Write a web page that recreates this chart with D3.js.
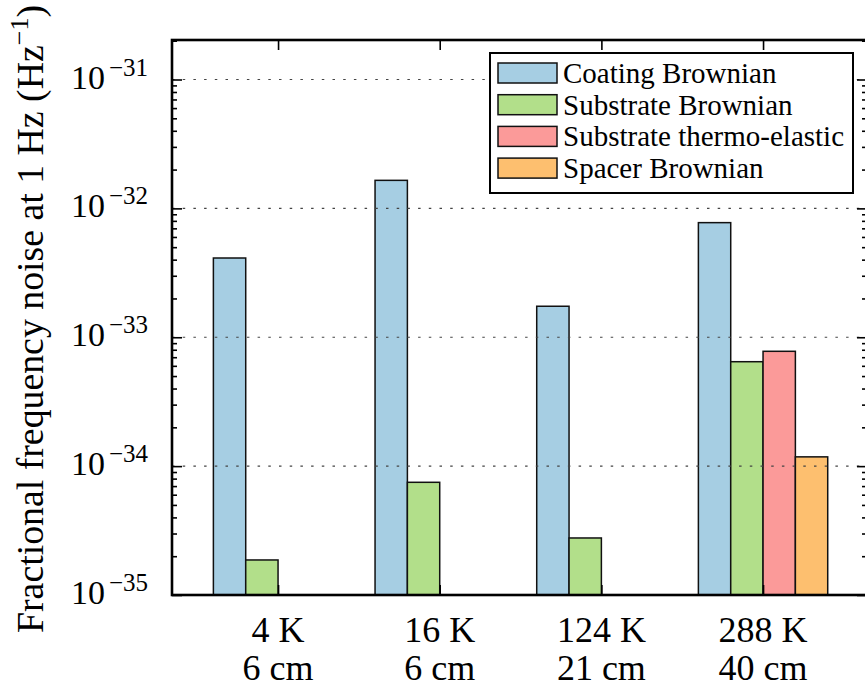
<!DOCTYPE html>
<html>
<head>
<meta charset="utf-8">
<script src="https://cdn.jsdelivr.net/npm/d3@7"></script>
<style>
  html, body { margin: 0; padding: 0; background: #fff; }
  svg { display: block; }
</style>
</head>
<body>
<svg id="chart" width="865" height="691"></svg>
<script>
// ---- data ----
const tempLabels = ["4 K", "16 K", "124 K", "288 K"];
const lengthLabels = ["6 cm", "6 cm", "21 cm", "40 cm"];
const seriesNames = ["Coating Brownian", "Substrate Brownian", "Substrate thermo-elastic", "Spacer Brownian"];
const coatingBrownian = [4.12e-33, 1.65e-32, 1.74e-33, 7.75e-33];
const substrateBrownian = [1.87e-35, 7.49e-35, 2.77e-35, 6.46e-34];
const substrateThermoElastic = [null, null, null, 7.78e-34];
const spacerBrownian = [null, null, null, 1.18e-34];
const yTickExponents = [-35, -34, -33, -32, -31];
const seriesColors = ["#a6cee3", "#b2df8a", "#fb9a99", "#fdbf6f"];

const seriesValues = [coatingBrownian, substrateBrownian, substrateThermoElastic, spacerBrownian];
const FONT = '"Liberation Serif"';

// ---- layout ----
const svg = d3.select("#chart");
const pL = 172, pR = 867, pT = 40, pB = 595;

const x = d3.scaleLinear().domain([0.344, 4.643]).range([pL, pR]);
const y = d3.scaleLog().domain([1e-35, Math.pow(10, -30.6935)]).range([pB, pT]);
const barW = 0.2;

function i1(i) { return i + 1; }

// bars
const bars = [];
seriesValues.forEach((vals, s) => {
  vals.forEach((v, i) => {
    if (v != null) bars.push({ s, i, v });
  });
});
svg.append("g").selectAll("rect").data(bars).join("rect")
  .attr("x", d => x(i1(d.i) + (d.s - 2) * barW))
  .attr("width", d => x(i1(d.i) + (d.s - 1) * barW) - x(i1(d.i) + (d.s - 2) * barW))
  .attr("y", d => y(d.v))
  .attr("height", d => pB - y(d.v))
  .attr("fill", d => seriesColors[d.s])
  .attr("stroke", "#111")
  .attr("stroke-width", 1.5);

// gridlines (drawn over bars)
const majors = yTickExponents.map(e => Math.pow(10, e));
svg.append("g").selectAll("line").data(majors.filter(v => v > 1e-35)).join("line")
  .attr("x1", pL).attr("x2", pR)
  .attr("y1", d => y(d)).attr("y2", d => y(d))
  .attr("stroke", "#444").attr("stroke-width", 1.2)
  .attr("stroke-dasharray", "2.5,8.2");

// minor tick values
const minors = [];
for (let e = -35; e <= -31; e++) {
  for (let m = 2; m <= 9; m++) {
    const v = m * Math.pow(10, e);
    if (v <= y.domain()[1]) minors.push(v);
  }
}

// axes (ticks inward)
function styleAxis(g) {
  g.select(".domain").remove();
  g.selectAll(".tick line").attr("stroke", "#000").attr("stroke-width", 1.6);
  g.selectAll(".tick text").remove();
}
svg.append("g").attr("transform", `translate(${pL},0)`)
  .call(d3.axisRight(y).tickValues(majors).tickSize(10).tickFormat(""))
  .call(styleAxis);
svg.append("g").attr("transform", `translate(${pL},0)`)
  .call(d3.axisRight(y).tickValues(minors).tickSize(5).tickFormat(""))
  .call(styleAxis);
svg.append("g").attr("transform", `translate(${pR},0)`)
  .call(d3.axisLeft(y).tickValues(majors).tickSize(10).tickFormat(""))
  .call(styleAxis);
svg.append("g").attr("transform", `translate(${pR},0)`)
  .call(d3.axisLeft(y).tickValues(minors).tickSize(5).tickFormat(""))
  .call(styleAxis);
svg.append("g").attr("transform", `translate(0,${pB})`)
  .call(d3.axisTop(x).tickValues([1, 2, 3, 4]).tickSize(10).tickFormat(""))
  .call(styleAxis);
svg.append("g").attr("transform", `translate(0,${pT})`)
  .call(d3.axisBottom(x).tickValues([1, 2, 3, 4]).tickSize(10).tickFormat(""))
  .call(styleAxis);

// frame
svg.append("rect").attr("x", pL).attr("y", pT)
  .attr("width", pR - pL).attr("height", pB - pT)
  .attr("fill", "none").attr("stroke", "#000").attr("stroke-width", 2.6);

// y tick labels
const yl = svg.append("g").selectAll("text").data(yTickExponents).join("text")
  .style("font-family", FONT)
  .attr("x", 148).attr("y", d => y(Math.pow(10, d)) + 9)
  .attr("text-anchor", "end");
yl.append("tspan").style("font-size", "34px").text("10");
yl.append("tspan").style("font-size", "25px").attr("dx", 4).attr("dy", -13).text(d => "\u2212" + Math.abs(d));

// x category labels
const xl = svg.append("g").selectAll("text").data(tempLabels).join("text")
  .style("font-family", FONT).style("font-size", "36px")
  .attr("text-anchor", "middle");
xl.append("tspan").attr("x", (d, i) => x(i + 1)).attr("y", 642).text(d => d);
xl.append("tspan").attr("x", (d, i) => x(i + 1)).attr("y", 680).text((d, i) => lengthLabels[i]);

// y axis label
const ylab = svg.append("text")
  .style("font-family", FONT).style("font-size", "37.8px")
  .attr("transform", "translate(43,319) rotate(-90)")
  .attr("text-anchor", "middle");
ylab.append("tspan").text("Fractional frequency noise at 1 Hz (Hz");
ylab.append("tspan").style("font-size", "26px").attr("dy", -15).text("\u22121");
ylab.append("tspan").attr("dy", 15).text(")");

// legend
const lg = svg.append("g");
lg.append("rect").attr("x", 490).attr("y", 53).attr("width", 363).attr("height", 140)
  .attr("fill", "#fff").attr("stroke", "#000").attr("stroke-width", 2);
const rows = lg.selectAll("g.row").data(seriesNames).join("g").attr("class", "row")
  .attr("transform", (d, i) => `translate(0,${i * 31.7})`);
rows.append("rect").attr("x", 498).attr("y", 63).attr("width", 59).attr("height", 20)
  .attr("fill", (d, i) => seriesColors[i]).attr("stroke", "#111").attr("stroke-width", 1.5);
rows.append("text").style("font-family", FONT).style("font-size", "29px")
  .attr("x", 563).attr("y", 83).text(d => d);
</script>
</body>
</html>
